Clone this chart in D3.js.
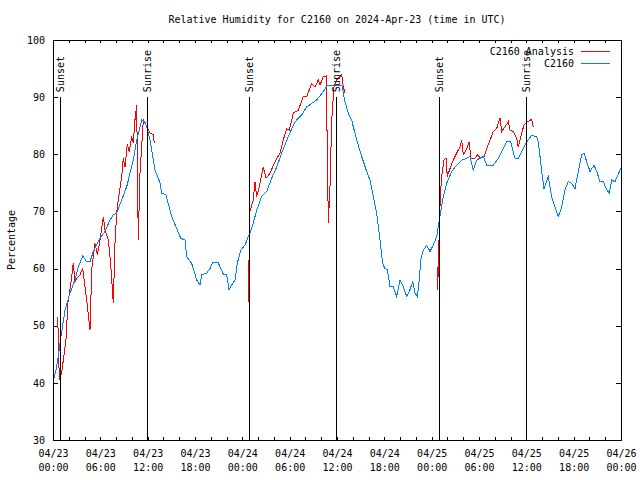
<!DOCTYPE html>
<html><head><meta charset="utf-8">
<script src="https://cdn.jsdelivr.net/npm/d3@7"></script>
<style>
body{margin:0;background:#fff}
text{font-family:"DejaVu Sans Mono",monospace;font-size:10px;fill:#000}
</style>
</head><body>
<svg id="chart" width="640" height="480"></svg>
<script>
// ---------- data ----------
const chartTitle = "Relative Humidity for C2160 on 2024-Apr-23 (time in UTC)";
const yAxisTitle = "Percentage";
const seriesNames = ["C2160 Analysis", "C2160"];
const startTime = "2024-04-23T00:00:00Z";
const endTime = "2024-04-26T00:00:00Z";
const yTickValues = [30, 40, 50, 60, 70, 80, 90, 100];

// C2160 observations: hours after start, relative humidity (%)
const obsHours = [0.0,0.38,0.67,0.89,1.52,2.15,2.79,3.21,3.76,4.27,4.69,5.11,5.87,6.59,7.22,7.64,8.07,8.71,9.34,10.18,10.61,11.24,11.66,11.88,12.30,12.93,13.56,13.78,14.32,15.05,15.68,16.19,16.73,16.95,17.58,18.22,18.64,18.85,19.48,19.90,20.24,20.95,21.59,22.02,22.31,22.65,23.07,23.36,23.79,24.34,24.76,24.97,25.39,25.82,26.45,27.09,27.72,28.36,28.99,29.83,30.68,31.53,32.16,33.43,34.26,34.77,36.63,37.01,37.43,37.86,38.07,38.50,39.13,39.76,40.18,40.60,41.03,41.45,41.79,42.08,42.38,42.72,43.14,43.57,43.99,44.40,44.84,45.25,45.59,45.89,46.18,46.43,46.61,46.94,47.37,47.79,48.21,48.64,48.97,49.47,49.90,50.54,51.17,51.81,52.44,52.86,53.28,53.71,54.13,54.55,54.98,55.81,56.45,56.88,57.51,58.02,58.56,58.98,59.61,60.05,60.68,61.31,61.52,61.95,62.24,62.78,63.21,63.63,64.05,64.48,64.90,65.32,65.75,66.17,66.59,67.02,67.31,67.65,68.07,68.58,68.92,69.34,69.76,70.19,70.52,70.82,71.24,71.87,72.0];
const obsValues = [40.0,42.3,44.6,47.0,52.7,55.7,58.0,60.3,62.2,61.2,61.2,63.0,65.1,66.5,68.5,69.4,69.7,72.0,74.3,79.0,82.5,86.0,85.7,84.8,82.5,77.2,75.0,73.2,72.9,69.1,67.0,65.3,65.0,62.1,60.9,58.0,57.1,58.9,59.2,60.0,61.0,61.0,59.0,58.9,56.3,57.1,58.0,60.9,63.2,64.1,65.6,66.2,68.0,70.2,72.6,73.5,75.8,77.8,80.2,83.1,85.7,86.9,88.3,89.5,91.0,92.0,92.0,89.2,87.2,86.0,84.8,82.5,79.6,77.0,75.5,72.6,69.7,65.0,60.9,60.0,59.8,56.8,56.8,55.1,58.0,56.8,55.1,56.3,57.7,55.7,55.1,58.0,61.5,63.2,64.1,63.0,64.1,65.6,68.5,72.6,74.9,77.0,78.1,79.0,79.3,79.6,77.2,79.0,79.3,79.6,78.1,78.1,79.3,80.5,82.2,82.2,79.3,79.3,81.0,82.2,83.3,83.1,82.2,77.0,74.0,76.1,72.6,70.8,69.1,70.8,73.8,75.2,74.9,74.0,77.0,79.9,80.2,78.7,77.0,78.1,77.0,75.2,75.2,73.8,73.2,75.5,75.2,77.2,77.6];

// C2160 analysis, three runs
const analysisHours1 = [0.62,0.66,0.82,1.10,1.31,1.74,1.81,2.24,2.57,2.79,3.00,3.42,3.76,4.27,4.69,4.91,5.32,5.62,5.96,6.38,6.59,7.01,7.31,7.64,7.86,8.07,8.28,8.71,8.91,9.13,9.42,9.67,9.98,10.18,10.39,10.61,10.81,11.03,11.45,11.79,12.30,12.71,12.84];
const analysisValues1 = [51.6,46.3,40.5,41.7,44.0,48.7,53.3,57.1,60.9,57.7,58.3,58.9,60.0,54.5,49.2,59.8,64.4,62.4,65.0,69.1,66.8,65.0,60.9,53.9,64.4,69.7,72.0,76.1,79.4,77.8,81.7,80.4,83.1,82.0,86.0,88.6,65.0,76.7,86.0,85.1,83.7,83.4,81.9];
const analysisHours2 = [24.74,24.79,24.87,24.97,25.39,25.60,25.82,26.15,26.66,27.00,27.51,28.14,28.77,29.19,29.62,29.95,30.46,31.09,31.73,32.16,32.79,33.21,33.63,33.84,34.26,34.61,34.77,34.90,35.11,35.33,35.62,35.96,36.38,36.59,36.80,37.01];
const analysisValues2 = [61.5,54.2,61.6,70.0,72.0,75.2,72.6,74.3,77.8,75.8,76.7,78.7,80.2,82.5,84.5,84.2,87.2,87.7,90.1,90.1,92.4,91.8,93.0,92.1,93.6,93.7,81.3,67.9,74.3,86.0,91.8,93.0,93.6,93.9,91.8,90.7];
const analysisHours3 = [48.71,48.75,48.85,48.99,49.12,49.27,49.56,49.82,49.98,50.32,50.74,51.17,51.59,51.81,52.01,52.44,52.77,52.95,53.49,53.79,54.22,54.64,54.98,55.40,55.81,56.24,56.66,56.88,57.30,57.71,57.93,58.35,58.77,58.98,59.41,59.70,60.12,60.68,60.88];
const analysisValues3 = [60.2,56.2,60.3,68.5,73.2,76.1,79.0,79.3,76.1,77.5,79.0,80.2,81.3,82.5,79.9,81.0,82.2,79.3,79.3,79.9,79.3,79.6,81.0,82.5,84.0,84.5,86.3,84.0,84.8,85.7,84.2,84.0,82.8,81.3,83.7,85.1,85.7,86.1,84.8];

// sun events (hours after start)
const sunsetHours = [0.89, 24.88, 48.97];
const sunriseHours = [11.88, 35.83, 59.92];

// ---------- drawing ----------
const svg = d3.select("#chart");
const L = 53, R = 621, T = 40, B = 440;
const t0 = new Date(startTime), t1 = new Date(endTime);
const toDate = h => new Date(t0.getTime() + h * 3600e3);
const x = d3.scaleUtc().domain([t0, t1]).range([L, R]);
const y = d3.scaleLinear().domain([30, 100]).range([B, T]);

svg.append("rect").attr("width", 640).attr("height", 480).attr("fill", "#fff");

// title
svg.append("text").attr("x", (L + R) / 2).attr("y", 23).attr("text-anchor", "middle").text(chartTitle);
svg.append("text").attr("transform", "translate(15,240) rotate(-90)").attr("text-anchor", "middle").text(yAxisTitle);

// axes
const minor = d3.utcHour.every(2).range(t0, new Date(t1.getTime() + 1));
const major = d3.utcHour.every(6).range(t0, new Date(t1.getTime() + 1));
function styleAxis(g) {
  g.select(".domain").remove();
  g.selectAll("line").attr("stroke", "#000").attr("shape-rendering", "crispEdges");
}
svg.append("g").attr("transform", `translate(0,${B})`)
  .call(d3.axisBottom(x).tickValues(minor).tickSize(-3).tickFormat(""))
  .call(styleAxis).selectAll("text").remove();
svg.append("g").attr("transform", `translate(0,${T})`)
  .call(d3.axisTop(x).tickValues(minor).tickSize(-3).tickFormat(""))
  .call(styleAxis).selectAll("text").remove();

const fmtDay = d3.utcFormat("%m/%d"), fmtTime = d3.utcFormat("%H:%M");
const xl = svg.append("g").attr("transform", `translate(0,${B})`)
  .call(d3.axisBottom(x).tickValues(major).tickSize(0).tickPadding(0).tickFormat(""));
xl.select(".domain").remove();
xl.selectAll(".tick text").each(function(d) {
  const t = d3.select(this).attr("y", null).attr("dy", null).attr("font-size", null).attr("font-family", null);
  t.append("tspan").attr("x", 0).attr("y", 17).text(fmtDay(d));
  t.append("tspan").attr("x", 0).attr("y", 31).text(fmtTime(d));
});

const yl = svg.append("g").attr("transform", `translate(${L},0)`)
  .call(d3.axisLeft(y).tickValues(yTickValues).tickSize(-5).tickPadding(8));
styleAxis(yl);
yl.selectAll("text").attr("font-size", null).attr("font-family", null).attr("fill", "#000");
svg.append("g").attr("transform", `translate(${R},0)`)
  .call(d3.axisRight(y).tickValues(yTickValues).tickSize(-5).tickFormat(""))
  .call(styleAxis);

// data lines
const line = d3.line().x(d => x(toDate(d[0]))).y(d => y(d[1]));
const zip = (a, b) => a.map((h, i) => [h, b[i]]);
const plot = svg.append("g");
[[analysisHours1, analysisValues1], [analysisHours2, analysisValues2], [analysisHours3, analysisValues3]].forEach(([h, v]) => {
  plot.append("path").datum(zip(h, v)).attr("d", line)
    .attr("fill", "none").attr("stroke", "#ff0000").attr("stroke-width", 1).attr("shape-rendering", "crispEdges");
});
plot.append("path").datum(zip(obsHours, obsValues)).attr("d", line)
  .attr("fill", "none").attr("stroke", "#0080ff").attr("stroke-width", 1).attr("shape-rendering", "crispEdges");

// sun markers
const sun = sunsetHours.map(h => ({h, label: "Sunset"})).concat(sunriseHours.map(h => ({h, label: "Sunrise"})));
sun.forEach(s => {
  const xp = Math.round(x(toDate(s.h))) + 0.5;
  svg.append("line").attr("x1", xp).attr("x2", xp).attr("y1", y(90)).attr("y2", y(30))
    .attr("stroke", "#000").attr("shape-rendering", "crispEdges");
  svg.append("text").attr("transform", `translate(${xp + 3.5},${y(90) - 5}) rotate(-90)`)
    .attr("text-anchor", "start").text(s.label);
});

// frame
svg.append("rect").attr("x", L + 0.5).attr("y", T + 0.5).attr("width", R - L).attr("height", B - T)
  .attr("fill", "none").attr("stroke", "#000").attr("shape-rendering", "crispEdges");

// legend
const legendColors = ["#ff0000", "#0080ff"];
seriesNames.forEach((n, i) => {
  const ly = 51 + i * 12;
  svg.append("text").attr("x", 574).attr("y", ly + 3.5).attr("text-anchor", "end").text(n);
  svg.append("line").attr("x1", 581).attr("x2", 610).attr("y1", ly + 0.5).attr("y2", ly + 0.5)
    .attr("stroke", legendColors[i]).attr("shape-rendering", "crispEdges");
});
</script>
</body></html>
